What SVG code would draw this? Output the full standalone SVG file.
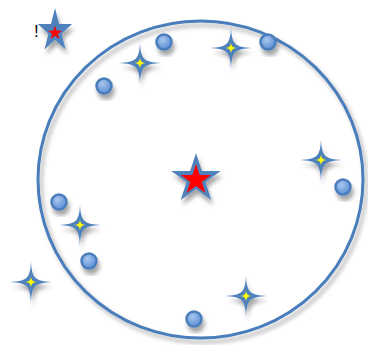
<svg xmlns="http://www.w3.org/2000/svg" xmlns:xlink="http://www.w3.org/1999/xlink" width="368" height="345" viewBox="0 0 368 345">
<defs>
<filter id="sh" x="-50%" y="-50%" width="200%" height="200%">
<feDropShadow dx="2" dy="5" stdDeviation="2" flood-color="#000" flood-opacity="0.35"/>
</filter>
<filter id="shc" x="-10%" y="-10%" width="120%" height="120%">
<feDropShadow dx="3" dy="4" stdDeviation="2" flood-color="#000" flood-opacity="0.3"/>
</filter>
<radialGradient id="ball" cx="40%" cy="35%" r="65%">
<stop offset="0" stop-color="#a9c6ee"/>
<stop offset="1" stop-color="#5b8fd6"/>
</radialGradient>
<path id="star5" d="M0,-1 L0.2245,-0.309 L0.951,-0.309 L0.363,0.118 L0.588,0.809 L0,0.382 L-0.588,0.809 L-0.363,0.118 L-0.951,-0.309 L-0.2245,-0.309 Z"/>
<path id="spark" d="M0,-21 C0.6,-4 4,-0.6 21,0 C4,0.6 0.6,4 0,21 C-0.6,4 -4,0.6 -21,0 C-4,-0.6 -0.6,-4 0,-21 Z"/>
<path id="cross" d="M0,-5.5 C0.4,-1.6 1.6,-0.4 5.5,0 C1.6,0.4 0.4,1.6 0,5.5 C-0.4,1.6 -1.6,0.4 -5.5,0 C-1.6,-0.4 -0.4,-1.6 0,-5.5 Z"/>
</defs>
<style>
.ring{fill:none;stroke:#4a7ebb;stroke-width:3}
.blue{fill:#4f81bd}
.red{fill:#ff0000}
.yel{fill:#ffff00}
.ball{fill:url(#ball);stroke:#4a7ebb;stroke-width:2.5}
.lbl{font-family:"Liberation Sans",Arial,sans-serif;font-size:17px;fill:#000}
</style>
<g id="connectors"></g>
<g id="ring"><ellipse class="ring" cx="200.5" cy="179.5" rx="162.5" ry="158.5" filter="url(#shc)"/></g>
<g id="star-small">
<text class="lbl" x="34" y="37">!</text>
<g filter="url(#sh)"><use xlink:href="#star5" class="blue" transform="translate(55,31) scale(18,23)"/></g>
<use xlink:href="#star5" class="red" transform="translate(55,33) scale(7.5)"/>
</g>
<g id="star-center">
<g filter="url(#sh)"><use xlink:href="#star5" class="blue" transform="translate(196,179) scale(26)"/></g>
<use xlink:href="#star5" class="red" transform="translate(196,180) scale(16)"/>
</g>
<g id="sparkles">
<g id="s1"><use xlink:href="#spark" class="blue" filter="url(#sh)" transform="translate(140,63)"/><use xlink:href="#cross" class="yel" transform="translate(140,63)"/></g>
<g id="s2"><use xlink:href="#spark" class="blue" filter="url(#sh)" transform="translate(231,48)"/><use xlink:href="#cross" class="yel" transform="translate(231,48)"/></g>
<g id="s3"><use xlink:href="#spark" class="blue" filter="url(#sh)" transform="translate(321,160)"/><use xlink:href="#cross" class="yel" transform="translate(321,160)"/></g>
<g id="s4"><use xlink:href="#spark" class="blue" filter="url(#sh)" transform="translate(80,225)"/><use xlink:href="#cross" class="yel" transform="translate(80,225)"/></g>
<g id="s5"><use xlink:href="#spark" class="blue" filter="url(#sh)" transform="translate(31,282)"/><use xlink:href="#cross" class="yel" transform="translate(31,282)"/></g>
<g id="s6"><use xlink:href="#spark" class="blue" filter="url(#sh)" transform="translate(246,296)"/><use xlink:href="#cross" class="yel" transform="translate(246,296)"/></g>
</g>
<g id="balls">
<circle id="b1" class="ball" cx="164" cy="42" r="7.5" filter="url(#sh)"/>
<circle id="b2" class="ball" cx="268" cy="42" r="7.5" filter="url(#sh)"/>
<circle id="b3" class="ball" cx="104" cy="86" r="7.5" filter="url(#sh)"/>
<circle id="b4" class="ball" cx="343" cy="187" r="7.5" filter="url(#sh)"/>
<circle id="b5" class="ball" cx="59" cy="202" r="7.5" filter="url(#sh)"/>
<circle id="b6" class="ball" cx="89" cy="261" r="7.5" filter="url(#sh)"/>
<circle id="b7" class="ball" cx="194" cy="319" r="7.5" filter="url(#sh)"/>
</g>
</svg>
